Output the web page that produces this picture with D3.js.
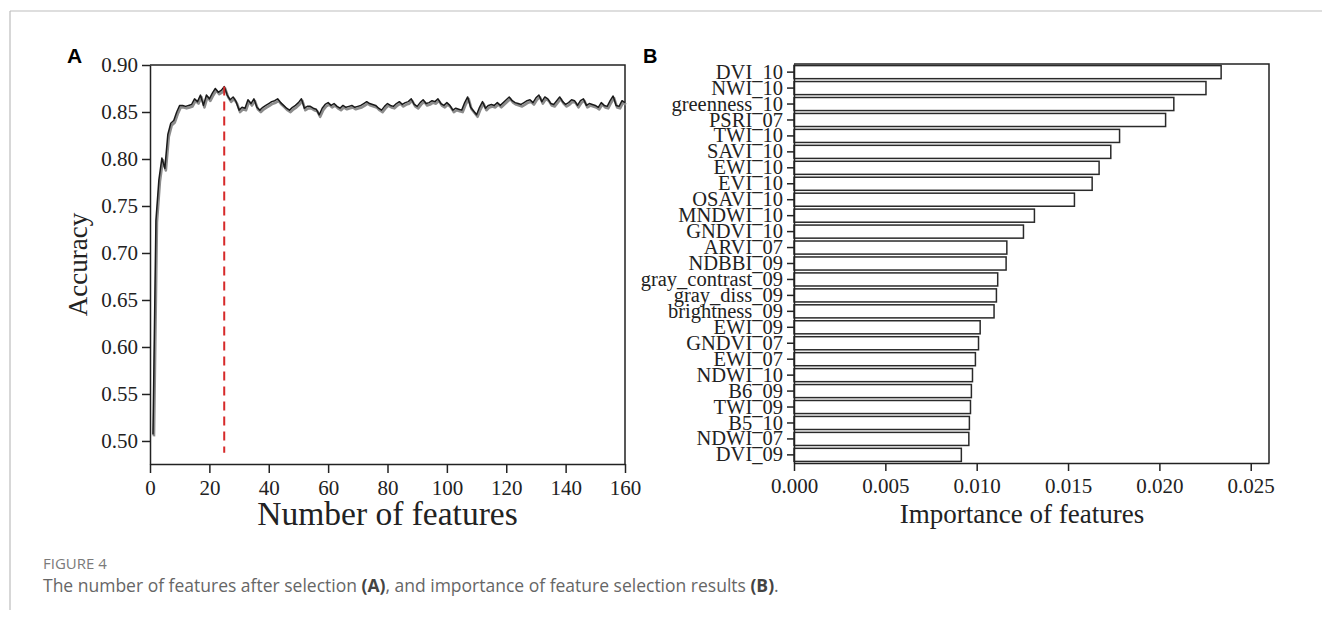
<!DOCTYPE html>
<html>
<head>
<meta charset="utf-8">
<script src="https://cdn.jsdelivr.net/npm/d3@7"></script>
<style>
  body { margin: 0; background: #fff; }
  svg { display: block; }
</style>
</head>
<body>
<div id="chart-container"></div>
<script>
// Panel A: accuracy for 1..160 selected features
const accuracy = [
  0.507, 0.735, 0.778, 0.801, 0.790, 0.826, 0.838, 0.841, 0.850, 0.857,
  0.857, 0.856, 0.857, 0.858, 0.864, 0.861, 0.868, 0.857, 0.868, 0.864,
  0.870, 0.875, 0.871, 0.873, 0.877, 0.868, 0.863, 0.866, 0.861, 0.852,
  0.855, 0.854, 0.863, 0.859, 0.864, 0.855, 0.852, 0.855, 0.857, 0.859,
  0.861, 0.862, 0.864, 0.860, 0.857, 0.854, 0.852, 0.855, 0.857, 0.860,
  0.864, 0.854, 0.856, 0.856, 0.854, 0.853, 0.847, 0.854, 0.858, 0.860,
  0.857, 0.859, 0.856, 0.854, 0.857, 0.855, 0.856, 0.857, 0.855, 0.856,
  0.857, 0.859, 0.861, 0.859, 0.858, 0.857, 0.854, 0.852, 0.856, 0.859,
  0.857, 0.856, 0.859, 0.861, 0.858, 0.860, 0.861, 0.864, 0.858, 0.856,
  0.860, 0.863, 0.859, 0.860, 0.862, 0.861, 0.864, 0.859, 0.857, 0.860,
  0.857, 0.852, 0.854, 0.853, 0.852, 0.860, 0.866, 0.855, 0.851, 0.847,
  0.855, 0.861, 0.854, 0.857, 0.858, 0.857, 0.860, 0.857, 0.860, 0.863,
  0.866, 0.862, 0.860, 0.859, 0.858, 0.860, 0.862, 0.863, 0.860, 0.865,
  0.868, 0.861, 0.866, 0.864, 0.859, 0.858, 0.862, 0.866, 0.861, 0.858,
  0.860, 0.863, 0.862, 0.857, 0.862, 0.864, 0.857, 0.859, 0.858, 0.857,
  0.855, 0.860, 0.857, 0.856, 0.862, 0.867, 0.857, 0.856, 0.862, 0.860
];
const bestCount = 25;
const accTicks = [0.50, 0.55, 0.60, 0.65, 0.70, 0.75, 0.80, 0.85, 0.90];
const countTicks = [0, 20, 40, 60, 80, 100, 120, 140, 160];

// Panel B: feature importance
const featureNames = [
  "DVI_10", "NWI_10", "greenness_10", "PSRI_07", "TWI_10", "SAVI_10", "EWI_10",
  "EVI_10", "OSAVI_10", "MNDWI_10", "GNDVI_10", "ARVI_07", "NDBBI_09",
  "gray_contrast_09", "gray_diss_09", "brightness_09", "EWI_09", "GNDVI_07",
  "EWI_07", "NDWI_10", "B6_09", "TWI_09", "B5_10", "NDWI_07", "DVI_09"
];
const importance = [
  0.02338, 0.02255, 0.02079, 0.02034, 0.01782, 0.01734, 0.01670,
  0.01632, 0.01535, 0.01316, 0.01256, 0.01165, 0.01161,
  0.01115, 0.01108, 0.01095, 0.01019, 0.01010,
  0.00993, 0.00977, 0.00971, 0.00966, 0.00960, 0.00957, 0.00916
];
const impTicks = [0, 0.005, 0.010, 0.015, 0.020, 0.025];

const width = 1322;
const height = 621;
const serif = "'Liberation Serif', 'Times New Roman', serif";

const svg = d3.create("svg")
  .attr("width", width)
  .attr("height", height)
  .attr("viewBox", [0, 0, width, height]);

// page frame lines
svg.append("line")
  .attr("x1", 10).attr("x2", width).attr("y1", 11).attr("y2", 11)
  .attr("stroke", "#bdbdbd").attr("stroke-width", 1.2);
svg.append("line")
  .attr("x1", 10).attr("x2", 10).attr("y1", 11).attr("y2", 610)
  .attr("stroke", "#bdbdbd").attr("stroke-width", 1.2);

// ---------- Panel A ----------
const ax = { left: 150, right: 625, top: 65, bottom: 464 };

const x = d3.scaleLinear()
  .domain([0, 160])
  .range([ax.left, ax.right]);

const y = d3.scaleLinear()
  .domain([0.4755, 0.90])
  .range([ax.bottom, ax.top]);

const gA = svg.append("g");

gA.append("g")
  .attr("transform", `translate(0,${ax.bottom})`)
  .call(d3.axisBottom(x).tickValues(countTicks).tickSize(9).tickPadding(7).tickSizeOuter(0))
  .call(g => g.selectAll("text").attr("font-size", 21).attr("font-family", serif).attr("fill", "#222"));

gA.append("g")
  .attr("transform", `translate(${ax.left},0)`)
  .call(d3.axisLeft(y).tickValues(accTicks).tickFormat(d3.format(".2f")).tickSize(8).tickPadding(4).tickSizeOuter(0))
  .call(g => g.selectAll("text").attr("font-size", 21).attr("font-family", serif).attr("fill", "#222"));

gA.selectAll(".domain, .tick line").attr("stroke", "#222").attr("stroke-width", 1.5);

// top and right spines
gA.append("path")
  .attr("d", `M${ax.left},${ax.top}H${ax.right}V${ax.bottom}`)
  .attr("fill", "none")
  .attr("stroke", "#222")
  .attr("stroke-width", 1.5);

const line = d3.line()
  .x((d, i) => x(i + 1))
  .y(d => y(d));

// grey shadow under the curve
gA.append("path")
  .attr("d", line(accuracy))
  .attr("transform", "translate(1,2)")
  .attr("fill", "none")
  .attr("stroke", "#8c8c8c")
  .attr("stroke-width", 2.6)
  .attr("stroke-linejoin", "round");

gA.append("path")
  .attr("d", line(accuracy))
  .attr("fill", "none")
  .attr("stroke", "#1a1a1a")
  .attr("stroke-width", 1.5)
  .attr("stroke-linejoin", "round");

// best number of features marker
gA.append("line")
  .attr("x1", x(bestCount)).attr("x2", x(bestCount))
  .attr("y1", y(accuracy[bestCount - 1]))
  .attr("y2", y(0.4875))
  .attr("stroke", "#d62a2a")
  .attr("stroke-width", 2)
  .attr("stroke-dasharray", "9,6");

gA.append("text")
  .attr("x", 67).attr("y", 63)
  .attr("font-family", "'Liberation Sans', Arial, sans-serif")
  .attr("font-weight", "bold")
  .attr("font-size", 21)
  .text("A");

gA.append("text")
  .attr("transform", `translate(87,${(ax.top + ax.bottom) / 2}) rotate(-90)`)
  .attr("text-anchor", "middle")
  .attr("font-family", serif)
  .attr("font-size", 27)
  .attr("fill", "#222")
  .text("Accuracy");

gA.append("text")
  .attr("x", (ax.left + ax.right) / 2)
  .attr("y", 525)
  .attr("text-anchor", "middle")
  .attr("font-family", serif)
  .attr("font-size", 33.5)
  .attr("fill", "#222")
  .text("Number of features");

// ---------- Panel B ----------
const bx = { left: 794, right: 1269, top: 64, bottom: 463 };

const xb = d3.scaleLinear()
  .domain([0, 0.026])
  .range([bx.left, bx.right]);

const yb = d3.scaleBand()
  .domain(featureNames)
  .range([bx.top, bx.bottom])
  .paddingInner(0.18)
  .paddingOuter(0.1);

const gB = svg.append("g");

gB.selectAll("rect")
  .data(featureNames)
  .join("rect")
  .attr("x", xb(0))
  .attr("y", d => yb(d))
  .attr("width", (d, i) => xb(importance[i]) - xb(0))
  .attr("height", yb.bandwidth())
  .attr("fill", "#fff")
  .attr("stroke", "#2a2a2a")
  .attr("stroke-width", 1.5);

gB.append("g")
  .attr("transform", `translate(0,${bx.bottom})`)
  .call(d3.axisBottom(xb).tickValues(impTicks).tickFormat(d3.format(".3f")).tickSize(8).tickPadding(7).tickSizeOuter(0))
  .call(g => g.selectAll("text").attr("font-size", 21).attr("font-family", serif).attr("fill", "#222"));

gB.append("g")
  .attr("transform", `translate(${bx.left},0)`)
  .call(d3.axisLeft(yb).tickSize(7).tickPadding(4).tickSizeOuter(0))
  .call(g => g.selectAll("text").attr("font-size", 20.5).attr("font-family", serif).attr("fill", "#222"));

gB.selectAll(".domain, .tick line").attr("stroke", "#222").attr("stroke-width", 1.5);

gB.append("path")
  .attr("d", `M${bx.left},${bx.top}H${bx.right}V${bx.bottom}`)
  .attr("fill", "none")
  .attr("stroke", "#222")
  .attr("stroke-width", 1.5);

gB.append("text")
  .attr("x", 643).attr("y", 63)
  .attr("font-family", "'Liberation Sans', Arial, sans-serif")
  .attr("font-weight", "bold")
  .attr("font-size", 20)
  .text("B");

gB.append("text")
  .attr("x", 1022)
  .attr("y", 523)
  .attr("text-anchor", "middle")
  .attr("font-family", serif)
  .attr("font-size", 27)
  .attr("fill", "#222")
  .text("Importance of features");

// ---------- caption ----------
svg.append("text")
  .attr("x", 43).attr("y", 569)
  .attr("font-family", "'Open Sans', sans-serif")
  .attr("font-size", 15)
  .attr("fill", "#7a7a7a")
  .text("FIGURE 4");

const caption = svg.append("text")
  .attr("x", 43).attr("y", 592)
  .attr("font-family", "'Open Sans', sans-serif")
  .attr("font-size", 17.5)
  .attr("fill", "#666");
caption.append("tspan").text("The number of features after selection ");
caption.append("tspan").attr("font-weight", "bold").attr("fill", "#444").text("(A)");
caption.append("tspan").text(", and importance of feature selection results ");
caption.append("tspan").attr("font-weight", "bold").attr("fill", "#444").text("(B)");
caption.append("tspan").text(".");

document.getElementById("chart-container").appendChild(svg.node());
</script>
</body>
</html>
